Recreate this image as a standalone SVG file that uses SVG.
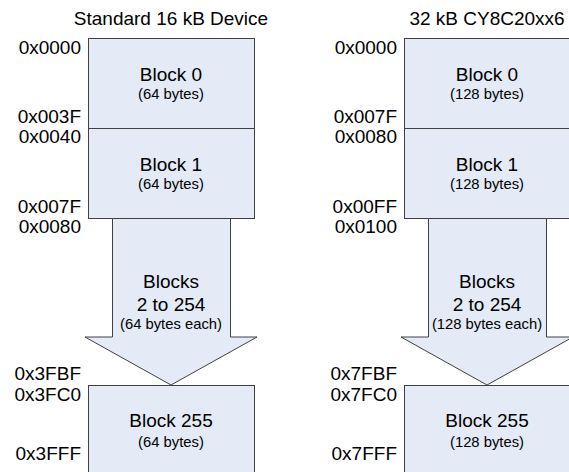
<svg xmlns="http://www.w3.org/2000/svg" width="569" height="472" viewBox="0 0 569 472">
<style>
.box{fill:#E4EAF6;stroke:#404040;stroke-width:1}
.t{font-family:"Liberation Sans",Arial,sans-serif;fill:#000}
.title{font-size:19px;text-anchor:middle}
.addr{font-size:19px;text-anchor:end}
.big{font-size:19px;text-anchor:middle}
.small{font-size:14.8px;text-anchor:middle}
</style>
<rect width="569" height="472" fill="#fff"/>
<text class="t title" x="171" y="25">Standard 16 kB Device</text>
<text class="t title" x="487" y="25">32 kB CY8C20xx6</text>
<g id="left-addresses">
<text class="t addr" x="81" y="54">0x0000</text>
<text class="t addr" x="81" y="123">0x003F</text>
<text class="t addr" x="81" y="143">0x0040</text>
<text class="t addr" x="81" y="213">0x007F</text>
<text class="t addr" x="81" y="233">0x0080</text>
<text class="t addr" x="81" y="380">0x3FBF</text>
<text class="t addr" x="81" y="401">0x3FC0</text>
<text class="t addr" x="81" y="460">0x3FFF</text>
</g>
<g id="right-addresses">
<text class="t addr" x="397" y="54">0x0000</text>
<text class="t addr" x="397" y="123">0x007F</text>
<text class="t addr" x="397" y="143">0x0080</text>
<text class="t addr" x="397" y="213">0x00FF</text>
<text class="t addr" x="397" y="233">0x0100</text>
<text class="t addr" x="397" y="380">0x7FBF</text>
<text class="t addr" x="397" y="401">0x7FC0</text>
<text class="t addr" x="397" y="460">0x7FFF</text>
</g>
<g id="left-block0">
<rect class="box" x="88.5" y="38.5" width="166" height="90"/>
<text class="t big" x="171" y="81">Block 0</text>
<text class="t small" x="171" y="99">(64 bytes)</text>
</g>
<g id="left-block1">
<rect class="box" x="88.5" y="128.5" width="166" height="90"/>
<text class="t big" x="171" y="171">Block 1</text>
<text class="t small" x="171" y="189">(64 bytes)</text>
</g>
<g id="left-blocks2to254">
<path class="box" d="M112.5 218.5 L230.5 218.5 L230.5 337 L257 337 L171 385 L85 337 L112.5 337 Z"/>
<text class="t big" x="171" y="288">Blocks</text>
<text class="t big" x="171" y="311">2 to 254</text>
<text class="t small" x="171" y="329">(64 bytes each)</text>
</g>
<g id="left-block255">
<rect class="box" x="88.5" y="385.5" width="166" height="92"/>
<text class="t big" x="171" y="427">Block 255</text>
<text class="t small" x="171" y="447">(64 bytes)</text>
</g>
<g id="right-block0">
<rect class="box" x="404.5" y="38.5" width="166" height="90"/>
<text class="t big" x="487" y="81">Block 0</text>
<text class="t small" x="487" y="99">(128 bytes)</text>
</g>
<g id="right-block1">
<rect class="box" x="404.5" y="128.5" width="166" height="90"/>
<text class="t big" x="487" y="171">Block 1</text>
<text class="t small" x="487" y="189">(128 bytes)</text>
</g>
<g id="right-blocks2to254">
<path class="box" d="M428.5 218.5 L546.5 218.5 L546.5 337 L573 337 L487 385 L401 337 L428.5 337 Z"/>
<text class="t big" x="487" y="288">Blocks</text>
<text class="t big" x="487" y="311">2 to 254</text>
<text class="t small" x="487" y="329">(128 bytes each)</text>
</g>
<g id="right-block255">
<rect class="box" x="404.5" y="385.5" width="166" height="92"/>
<text class="t big" x="487" y="427">Block 255</text>
<text class="t small" x="487" y="447">(128 bytes)</text>
</g>
<g id="connectors"></g>
</svg>
